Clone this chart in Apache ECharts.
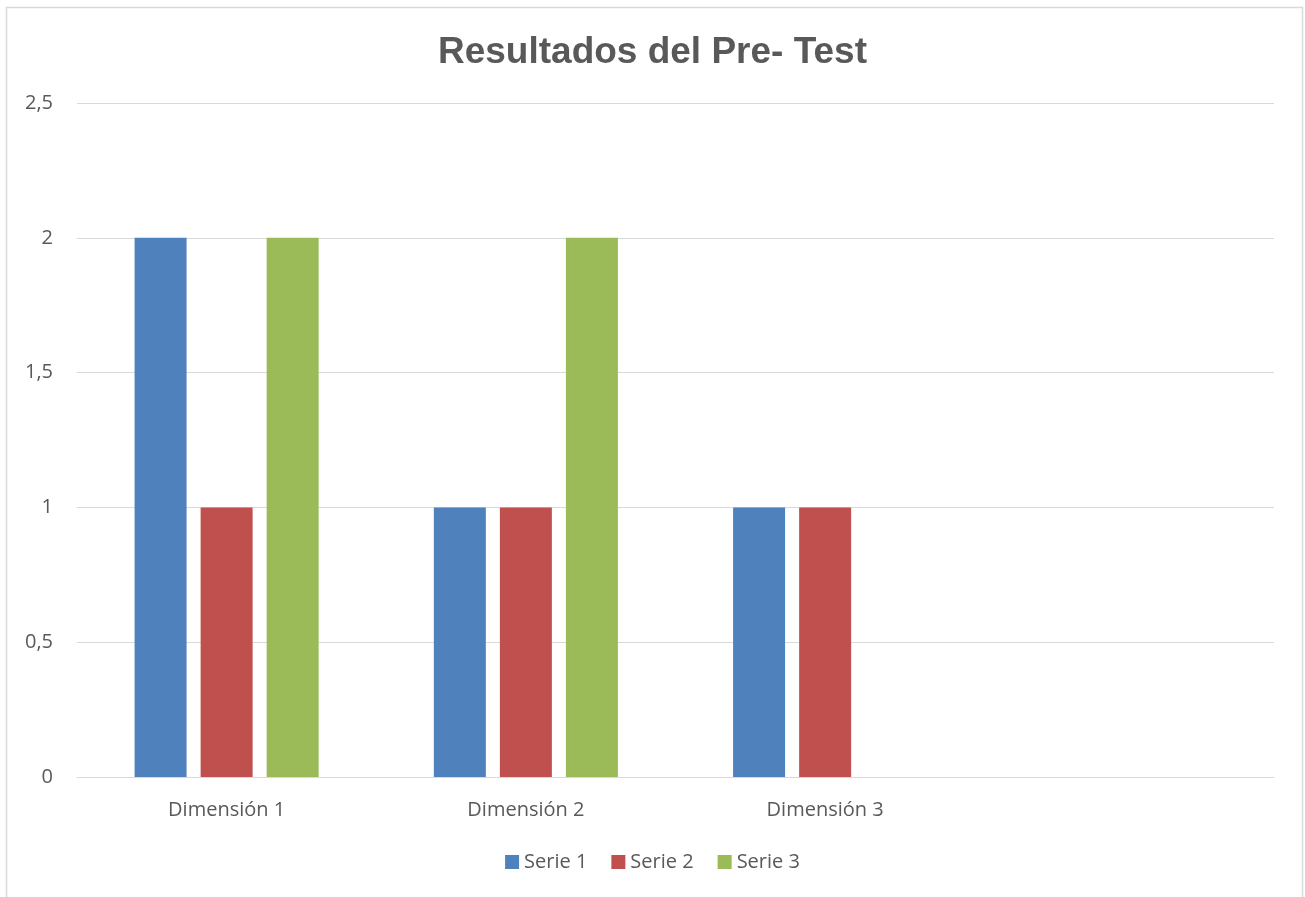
<!DOCTYPE html>
<html><head><meta charset="utf-8">
<script src="https://cdn.jsdelivr.net/npm/echarts@6/dist/echarts.min.js"></script>
<style>html,body{margin:0;padding:0;background:#fff}#c{width:1305px;height:897px}</style>
</head><body><div id="c"></div>
<script>
const categories = ['Dimensión 1', 'Dimensión 2', 'Dimensión 3', ''];
const serie1 = [2, 1, 1, null];
const serie2 = [1, 1, 1, null];
const serie3 = [2, 2, null, null];
const seriesNames = ['Serie 1', 'Serie 2', 'Serie 3'];
const colors = ['#4f81bd', '#c0504d', '#9bbb59'];

const chart = echarts.init(document.getElementById('c'));
const font = '"Open Sans", sans-serif';
chart.setOption({
  animation: false,
  color: colors,
  title: {
    text: 'Resultados del Pre- Test', left: 'center', top: 29,
    textStyle: { fontFamily: '"Liberation Sans", Arial, sans-serif', fontSize: 37, fontWeight: 'bold', color: '#595959' }
  },
  graphic: [{ type: 'rect', shape: { x: 6.5, y: 7.5, width: 1296, height: 900 }, style: { fill: 'none', stroke: '#d9d9d9', lineWidth: 1.5 }, silent: true }],
  legend: {
    bottom: 20, left: 'center', itemWidth: 14, itemHeight: 14, itemGap: 24,
    icon: 'rect',
    textStyle: { fontFamily: font, fontSize: 20, color: '#595959' },
    data: seriesNames
  },
  grid: { left: 77, right: 31, top: 103, bottom: 120 },
  xAxis: {
    type: 'category', data: categories,
    axisLine: { lineStyle: { color: '#d9d9d9', width: 1 } },
    axisTick: { show: false },
    axisLabel: { fontFamily: font, fontSize: 20, color: '#595959', margin: 23 }
  },
  yAxis: {
    type: 'value', min: 0, max: 2.5, interval: 0.5,
    axisLine: { show: false }, axisTick: { show: false },
    splitLine: { lineStyle: { color: '#d9d9d9', width: 1 } },
    axisLabel: { fontFamily: font, fontSize: 20, color: '#595959', margin: 24,
      formatter: v => String(v).replace('.', ',') }
  },
  series: [
    { name: seriesNames[0], type: 'bar', data: serie1, barWidth: 52, barGap: '27%' },
    { name: seriesNames[1], type: 'bar', data: serie2, barWidth: 52, barGap: '27%' },
    { name: seriesNames[2], type: 'bar', data: serie3, barWidth: 52, barGap: '27%' }
  ]
});
</script></body></html>
